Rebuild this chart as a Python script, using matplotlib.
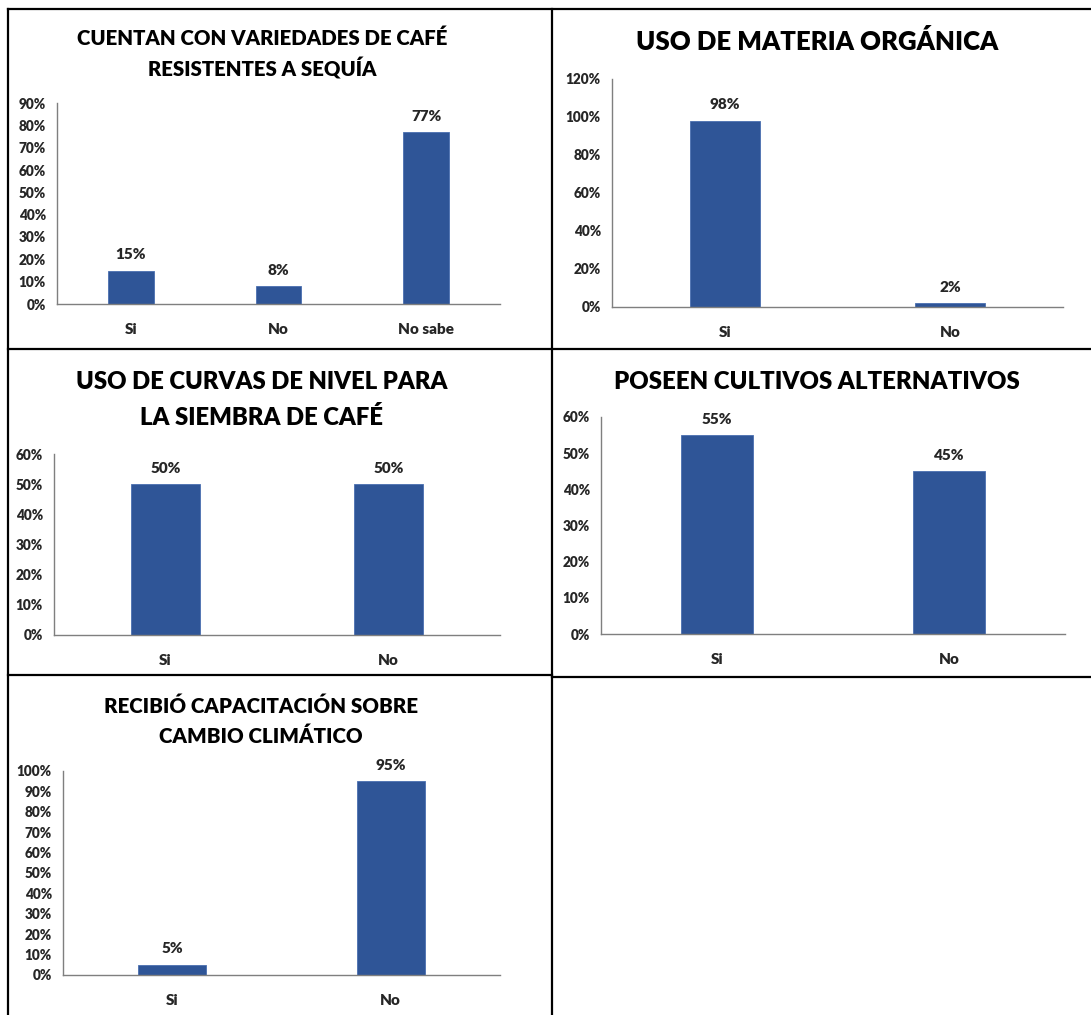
import matplotlib.pyplot as plt
from matplotlib.lines import Line2D

plt.rcParams['font.family'] = ['Lato', 'DejaVu Sans']
plt.rcParams['font.weight'] = 'heavy'

W, H = 1091, 1015
BAR_COLOR = '#2F5597'
AXIS_COLOR = '#7F7F7F'

# survey answers, in percent
cats_sequia = ["Si", "No", "No sabe"]
vals_sequia = [15, 8, 77]

cats_organica = ["Si", "No"]
vals_organica = [98, 2]

cats_curvas = ["Si", "No"]
vals_curvas = [50, 50]

cats_cultivos = ["Si", "No"]
vals_cultivos = [55, 45]

cats_capacitacion = ["Si", "No"]
vals_capacitacion = [5, 95]

titles = [
    "CUENTAN CON VARIEDADES DE CAFÉ\nRESISTENTES A SEQUÍA",
    "USO DE MATERIA ORGÁNICA",
    "USO DE CURVAS DE NIVEL PARA\nLA SIEMBRA DE CAFÉ",
    "POSEEN CULTIVOS ALTERNATIVOS",
    "RECIBIÓ CAPACITACIÓN SOBRE\nCAMBIO CLIMÁTICO",
]

fig = plt.figure(figsize=(W / 100, H / 100), dpi=100)


def px_axes(x0, y_top, x1, y_bot):
    # axes from pixel box (top-left origin)
    return fig.add_axes([x0 / W, 1 - y_bot / H, (x1 - x0) / W, (y_bot - y_top) / H])


def bar_panel(box, cats, vals, ymax, step, title, title_xy, title_size, lsp):
    ax = px_axes(*box)
    x = range(len(cats))
    ax.bar(x, vals, width=0.31, color=BAR_COLOR, edgecolor='#4A6FB0', linewidth=0.6)
    ax.set_xlim(-0.5, len(cats) - 0.5)
    ax.set_ylim(0, ymax)
    ax.set_yticks(range(0, ymax + 1, step))
    ax.set_yticklabels([f"{t}%" for t in range(0, ymax + 1, step)], fontsize=9.8)
    ax.set_xticks(list(x))
    ax.set_xticklabels(cats, fontsize=11)
    ax.tick_params(axis='both', length=0, colors='#262626')
    ax.tick_params(axis='x', pad=14)
    ax.tick_params(axis='y', pad=8)
    for s in ['top', 'right']:
        ax.spines[s].set_visible(False)
    for s in ['left', 'bottom']:
        ax.spines[s].set_color(AXIS_COLOR)
        ax.spines[s].set_linewidth(1.0)
    for xi, v in zip(x, vals):
        ax.annotate(f"{v}%", (xi, v), xytext=(0, 11.5), textcoords='offset points',
                    ha='center', va='center', fontsize=11, color='#262626')
    fig.text(title_xy[0] / W, 1 - title_xy[1] / H, title, ha='center', va='center',
             fontsize=title_size, color='black', linespacing=lsp)
    return ax


bar_panel((57, 103, 500, 304), cats_sequia, vals_sequia, 90, 10,
          titles[0], (262, 54), 14.7, 1.55)
bar_panel((612, 79, 1063, 307), cats_organica, vals_organica, 120, 20,
          titles[1], (817, 42), 18.5, 1.4)
bar_panel((54, 454, 500, 635), cats_curvas, vals_curvas, 60, 10,
          titles[2], (262, 400), 17.2, 1.65)
bar_panel((601, 417, 1065, 634), cats_cultivos, vals_cultivos, 60, 10,
          titles[3], (817, 382), 17.3, 1.4)
bar_panel((63, 771, 500, 975), cats_capacitacion, vals_capacitacion, 100, 10,
          titles[4], (261, 721), 14.8, 1.62)

# panel frames
frame = [
    ((8, 1091), (9, 9)),
    ((8, 8), (9, 1015)),
    ((552, 552), (9, 1015)),
    ((8, 1091), (349, 349)),
    ((8, 552), (675, 675)),
    ((552, 1091), (677, 677)),
]
for xs, ys in frame:
    fig.add_artist(Line2D([xs[0] / W, xs[1] / W], [1 - ys[0] / H, 1 - ys[1] / H],
                          color='black', linewidth=1.6, transform=fig.transFigure))

fig.savefig('out.png', dpi=100)
